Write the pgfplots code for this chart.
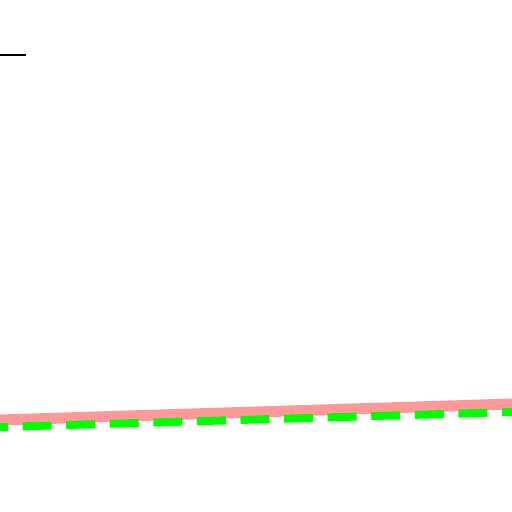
\documentclass[border=0pt]{standalone}
\usepackage{pgfplots}
\pgfplotsset{compat=1.18}
\begin{document}
\begin{tikzpicture}
\begin{axis}[
  width=512pt, height=512pt, scale only axis,
  hide axis,
  xmin=0, xmax=512, ymin=0, ymax=512,
  clip=true,
]
\path (rel axis cs:0,0) rectangle (rel axis cs:1,1);
\addplot[draw={rgb,255:red,255;green,153;blue,153}, line width=11pt, line cap=butt] coordinates {(-10,91.7) (522,108.3)};
\addplot[draw={rgb,255:red,0;green,255;blue,0}, line width=8pt, line cap=butt, dash pattern=on 29pt off 14.6pt, dash phase=21pt] coordinates {(0,85) (512,100)};
\addplot[draw=black, line width=1.3pt, line cap=butt] coordinates {(-5,457) (26,457)};
\end{axis}
\end{tikzpicture}
\end{document}
